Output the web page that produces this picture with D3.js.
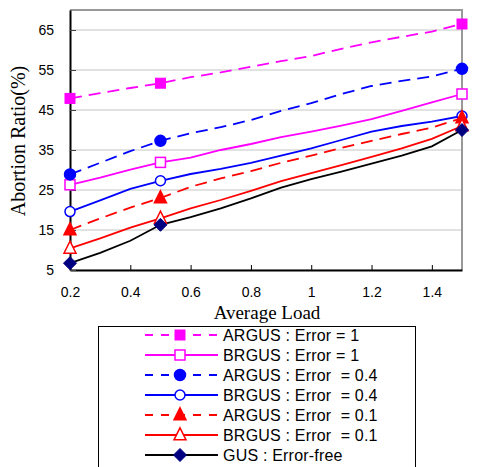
<!DOCTYPE html>
<html>
<head>
<meta charset="utf-8">
<script src="https://cdn.jsdelivr.net/npm/d3@7"></script>
<style>
  body { margin: 0; background: #fff; }
  svg { display: block; }
</style>
</head>
<body>
<svg id="chart" width="502" height="467"></svg>
<script>
// data
const loads = [0.2, 0.3, 0.4, 0.5, 0.6, 0.7, 0.8, 0.9, 1.0, 1.1, 1.2, 1.3, 1.4, 1.5];
const markerLoads = [0.2, 0.5, 1.5];

const argus1  = [47.9, 49.2, 50.5, 51.7, 53.2, 54.4, 55.8, 57.2, 58.5, 60.3, 61.9, 63.3, 64.6, 66.5];
const brgus1  = [26.3, 28.1, 30.1, 31.9, 33.1, 35.0, 36.5, 38.2, 39.6, 41.1, 42.7, 44.8, 46.9, 49.0];
const argus04 = [28.9, 31.8, 34.7, 37.3, 39.2, 40.7, 42.5, 44.8, 46.7, 49.0, 51.0, 52.3, 53.4, 55.3];
const brgus04 = [19.6, 22.4, 25.3, 27.3, 29.0, 30.3, 31.8, 33.6, 35.4, 37.5, 39.6, 41.0, 42.1, 43.5];
const argus01 = [15.0, 17.9, 20.6, 23.0, 25.8, 27.9, 29.7, 31.8, 33.6, 35.5, 37.3, 39.0, 40.6, 43.0];
const brgus01 = [10.4, 12.9, 15.6, 17.9, 20.4, 22.5, 24.8, 27.2, 29.2, 31.2, 33.3, 35.4, 37.8, 41.0];
const gus     = [6.7, 9.3, 12.3, 16.3, 18.2, 20.4, 22.9, 25.6, 27.7, 29.6, 31.6, 33.6, 35.9, 40.0];

const xTicks = [0.2, 0.4, 0.6, 0.8, 1, 1.2, 1.4];
const yTicks = [5, 15, 25, 35, 45, 55, 65];

const series = [
  { label: "ARGUS : Error = 1",    values: argus1,  color: "#ff00ff", dash: "12,7", marker: "square",   fill: true },
  { label: "BRGUS : Error = 1",    values: brgus1,  color: "#ff00ff", dash: null,   marker: "square",   fill: false },
  { label: "ARGUS : Error  = 0.4", values: argus04, color: "#0000ff", dash: "12,7", marker: "circle",   fill: true },
  { label: "BRGUS : Error  = 0.4", values: brgus04, color: "#0000ff", dash: null,   marker: "circle",   fill: false },
  { label: "ARGUS : Error  = 0.1", values: argus01, color: "#ff0000", dash: "12,7", marker: "triangle", fill: true },
  { label: "BRGUS : Error  = 0.1", values: brgus01, color: "#ff0000", dash: null,   marker: "triangle", fill: false },
  { label: "GUS : Error-free",     values: gus,     color: "#000000", dash: null,   marker: "diamond",  fill: true, markerColor: "#000080" }
];

const svg = d3.select("#chart");
const margin = { left: 70, top: 10, right: 40, bottom: 197 };
const width = 502 - margin.left - margin.right;
const height = 467 - margin.top - margin.bottom;

const x = d3.scaleLinear().domain([0.2, 1.5]).range([margin.left, margin.left + width]);
const y = d3.scaleLinear().domain([5, 70]).range([margin.top + height, margin.top]);

// gridlines
svg.append("g")
  .selectAll("line")
  .data(yTicks)
  .join("line")
  .attr("x1", x(0.2)).attr("x2", x(1.5))
  .attr("y1", d => y(d)).attr("y2", d => y(d))
  .attr("stroke", "#c4c4c4").attr("stroke-width", 1);

// frame: top and right in gray
svg.append("path")
  .attr("d", `M${x(0.2)},${y(70)}H${x(1.5)}V${y(5)}`)
  .attr("fill", "none").attr("stroke", "#999").attr("stroke-width", 2);

// axes
const xAxis = svg.append("g")
  .attr("transform", `translate(0,${y(5)})`)
  .call(d3.axisBottom(x).tickValues(xTicks).tickFormat(d3.format("")).tickSizeInner(-5).tickSizeOuter(0).tickPadding(17));
xAxis.select(".domain").attr("stroke", "#000").attr("stroke-width", 2);
xAxis.selectAll(".tick line").attr("stroke", "#000");
xAxis.selectAll("text").attr("font-family", "Liberation Sans, Arial, sans-serif").attr("font-size", 14).attr("fill", "#000");

const yAxis = svg.append("g")
  .attr("transform", `translate(${x(0.2)},0)`)
  .call(d3.axisLeft(y).tickValues(yTicks).tickSizeInner(-6).tickSizeOuter(0).tickPadding(16));
yAxis.select(".domain").attr("stroke", "#000").attr("stroke-width", 2);
yAxis.selectAll(".tick line").attr("stroke", "#444");
yAxis.selectAll("text").attr("font-family", "Liberation Sans, Arial, sans-serif").attr("font-size", 14).attr("fill", "#000");

// axis titles
svg.append("text")
  .attr("x", 267).attr("y", 319)
  .attr("text-anchor", "middle")
  .attr("font-family", "Liberation Serif, Times New Roman, serif")
  .attr("font-size", 19)
  .text("Average Load");

svg.append("text")
  .attr("transform", `translate(25,141) rotate(-90)`)
  .attr("text-anchor", "middle")
  .attr("font-family", "Liberation Serif, Times New Roman, serif")
  .attr("font-size", 20)
  .text("Abortion Ratio(%)");

// marker drawing
function drawMarker(g, s, cx, cy) {
  const fill = s.fill ? (s.markerColor || s.color) : "#fff";
  const stroke = s.markerColor || s.color;
  if (s.marker === "square") {
    const sz = 10;
    g.append("rect").attr("x", cx - sz / 2).attr("y", cy - sz / 2).attr("width", sz).attr("height", sz)
      .attr("fill", fill).attr("stroke", stroke).attr("stroke-width", s.fill ? 1 : 1.5);
  } else if (s.marker === "circle") {
    g.append("circle").attr("cx", cx).attr("cy", cy).attr("r", s.fill ? 5.5 : 5)
      .attr("fill", fill).attr("stroke", stroke).attr("stroke-width", 1.5);
  } else if (s.marker === "triangle") {
    const h = 12, w = 12;
    g.append("path").attr("d", `M${cx},${cy - h * 0.6}L${cx + w / 2},${cy + h * 0.4}L${cx - w / 2},${cy + h * 0.4}Z`)
      .attr("fill", fill).attr("stroke", stroke).attr("stroke-width", 1.5);
  } else if (s.marker === "diamond") {
    const r = 6.5;
    g.append("path").attr("d", `M${cx},${cy - r}L${cx + r},${cy}L${cx},${cy + r}L${cx - r},${cy}Z`)
      .attr("fill", fill).attr("stroke", stroke).attr("stroke-width", 1);
  }
}

const line = d3.line().x(d => x(d[0])).y(d => y(d[1]));

const plot = svg.append("g");
series.forEach(s => {
  const pts = loads.map((l, i) => [l, s.values[i]]);
  plot.append("path")
    .attr("d", line(pts))
    .attr("fill", "none")
    .attr("stroke", s.color)
    .attr("stroke-width", 1.8)
    .attr("stroke-dasharray", s.dash);
});
series.forEach(s => {
  const mg = plot.append("g");
  markerLoads.forEach(l => {
    const i = loads.indexOf(l);
    drawMarker(mg, s, x(l), y(s.values[i]));
  });
});

// legend
const legend = svg.append("g");
legend.append("rect")
  .attr("x", 98.5).attr("y", 326.5).attr("width", 317).attr("height", 150)
  .attr("fill", "#fff").attr("stroke", "#000").attr("stroke-width", 1);

series.forEach((s, i) => {
  const ly = 335 + i * 20;
  legend.append("line")
    .attr("x1", 145).attr("x2", 218).attr("y1", ly).attr("y2", ly)
    .attr("stroke", s.color).attr("stroke-width", 1.8)
    .attr("stroke-dasharray", s.dash ? "8,8" : null);
  drawMarker(legend, s, 180, ly);
  legend.append("text")
    .attr("x", 223).attr("y", ly + 6)
    .attr("font-family", "Liberation Sans, Arial, sans-serif")
    .attr("font-size", 16)
    .attr("letter-spacing", 0.2)
    .style("white-space", "pre")
    .text(s.label);
});
</script>
</body>
</html>
